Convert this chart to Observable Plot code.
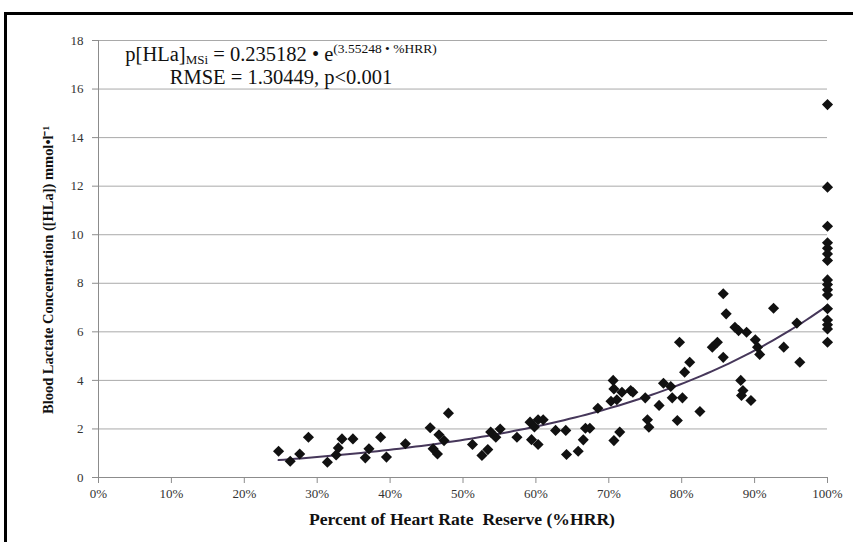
<!DOCTYPE html>
<html><head><meta charset="utf-8">
<script src="https://cdn.jsdelivr.net/npm/d3@7"></script>
<script src="https://cdn.jsdelivr.net/npm/@observablehq/plot@0.6"></script>
<style>
body{margin:0;background:#fff;}
#wrap{position:relative;width:853px;height:542px;overflow:hidden;background:#fff;}
#frame{position:absolute;left:4px;top:12px;width:900px;height:600px;border:3px solid #000;box-sizing:border-box;pointer-events:none;}
.eq{position:absolute;left:96px;width:370px;text-align:center;font-family:"Liberation Serif",serif;font-size:20.5px;line-height:20px;color:#111;white-space:nowrap;}
#eq1{top:44px;}
#eq2{top:67px;}
.eq sub{font-size:13px;line-height:0;vertical-align:-3px;}
.eq sup{font-size:13.5px;line-height:0;vertical-align:8px;}
svg text{font-family:"Liberation Serif","Times New Roman",serif !important;}
</style></head>
<body><div id="wrap"><div id="chart"></div><div id="frame"></div>
<div class="eq" id="eq1">p[HLa]<sub>MSi</sub> = 0.235182 • e<sup>(3.55248 • %HRR)</sup></div>
<div class="eq" id="eq2">RMSE = 1.30449, p&lt;0.001</div></div>
<script>
const hrr = [24.7,26.3,27.6,28.8,31.4,32.6,32.9,33.4,34.9,36.6,37.1,38.7,39.5,42.1,45.5,45.9,46.5,46.7,47.4,48.0,
  51.3,52.6,53.4,53.8,54.5,55.1,57.4,59.2,59.4,59.8,60.3,60.3,61.0,62.7,64.1,64.2,65.8,66.5,66.8,67.4,68.5,
  70.6,70.7,70.3,71.1,71.8,73.0,73.3,70.7,71.5,75.0,76.9,75.3,75.5,77.5,78.5,78.7,80.1,79.4,79.7,80.4,81.1,82.5,
  84.2,84.9,85.7,85.7,86.1,87.3,87.8,88.9,88.1,88.4,88.2,89.5,90.1,90.4,90.7,92.6,94.0,95.8,96.2,
  100,100,100,100,100,100,100,100,100,100,100,100,100,100,100,100];
const lactate = [1.08,0.67,0.97,1.66,0.63,0.93,1.22,1.59,1.59,0.81,1.18,1.66,0.84,1.39,2.05,1.18,0.97,1.76,1.52,2.65,
  1.36,0.91,1.15,1.87,1.66,2.00,1.66,2.28,1.56,2.08,2.38,1.36,2.38,1.94,1.94,0.95,1.08,1.55,2.03,2.03,2.85,
  4.00,3.65,3.14,3.20,3.51,3.58,3.51,1.52,1.87,3.28,2.97,2.38,2.07,3.88,3.75,3.28,3.28,2.35,5.57,4.34,4.75,2.72,
  5.37,5.57,4.95,7.57,6.74,6.19,6.05,5.98,4.00,3.58,3.38,3.17,5.67,5.37,5.07,6.97,5.37,6.36,4.75,
  15.36,11.96,10.35,9.67,9.44,9.21,8.94,8.14,7.95,7.73,7.52,6.95,6.49,6.29,6.12,5.57];
const xTicks = [0,10,20,30,40,50,60,70,80,90,100];
const yTicks = [0,2,4,6,8,10,12,14,16,18];
const xTitle = "Percent of Heart Rate  Reserve (%HRR)";
const yTitle = "Blood Lactate Concentration ([HLa]) mmol•l⁻¹";

const points = hrr.map((x, i) => ({x, y: lactate[i]}));

// Exponential least-squares trend (ln y on x), as a spreadsheet trendline does
const mx = d3.mean(points, d => d.x / 100);
const my = d3.mean(points, d => Math.log(d.y));
const sxy = d3.sum(points, d => (d.x / 100 - mx) * (Math.log(d.y) - my));
const sxx = d3.sum(points, d => (d.x / 100 - mx) ** 2);
const b = sxy / sxx, a = Math.exp(my - b * mx);
const [xmin, xmax] = d3.extent(hrr);
const trend = d3.range(0, 101).map(i => {
  const x = xmin + (xmax - xmin) * i / 100;
  return {x, y: a * Math.exp(b * x / 100)};
});

const font = '"Liberation Serif", "Times New Roman", serif';
const chart = Plot.plot({
  width: 853, height: 542,
  marginLeft: 98, marginRight: 26, marginTop: 40, marginBottom: 65,
  style: {fontSize: "13px", color: "#333", background: "transparent"},
  x: {domain: [0, 100], ticks: xTicks, tickFormat: d => d + "%", tickSize: 6, tickPadding: 5, label: null},
  y: {domain: [0, 18], ticks: yTicks, tickSize: 6, tickPadding: 9, label: null},
  marks: [
    Plot.ruleY(yTicks, {stroke: "#a9a9a9", strokeWidth: 1}),
    Plot.ruleX([0], {stroke: "#8c8c8c"}),
    Plot.ruleY([0], {stroke: "#8c8c8c"}),
    Plot.line(trend, {x: "x", y: "y", stroke: "#46375a", strokeWidth: 2, curve: "linear"}),
    Plot.dot(points, {x: "x", y: "y", symbol: "diamond2", r: 5, fill: "#111", stroke: "none"})
  ]
});
const svg = d3.select(chart);
svg.selectAll("text").style("font-family", font);
svg.selectAll("[aria-label='x-axis tick'], [aria-label='y-axis tick']").attr("stroke", "#8c8c8c");
svg.append("text").attr("x", 462).attr("y", 525).attr("text-anchor", "middle")
  .attr("font-weight", "bold").attr("font-size", 16)
  .attr("textLength", 306).attr("lengthAdjust", "spacingAndGlyphs").attr("fill", "#111").text(xTitle);
svg.append("text").attr("transform", "translate(53,270) rotate(-90)").attr("text-anchor", "middle")
  .attr("font-weight", "bold").attr("font-size", 14)
  .attr("textLength", 288).attr("lengthAdjust", "spacingAndGlyphs").attr("fill", "#111").text(yTitle);
document.getElementById("chart").appendChild(chart);
</script></body></html>
